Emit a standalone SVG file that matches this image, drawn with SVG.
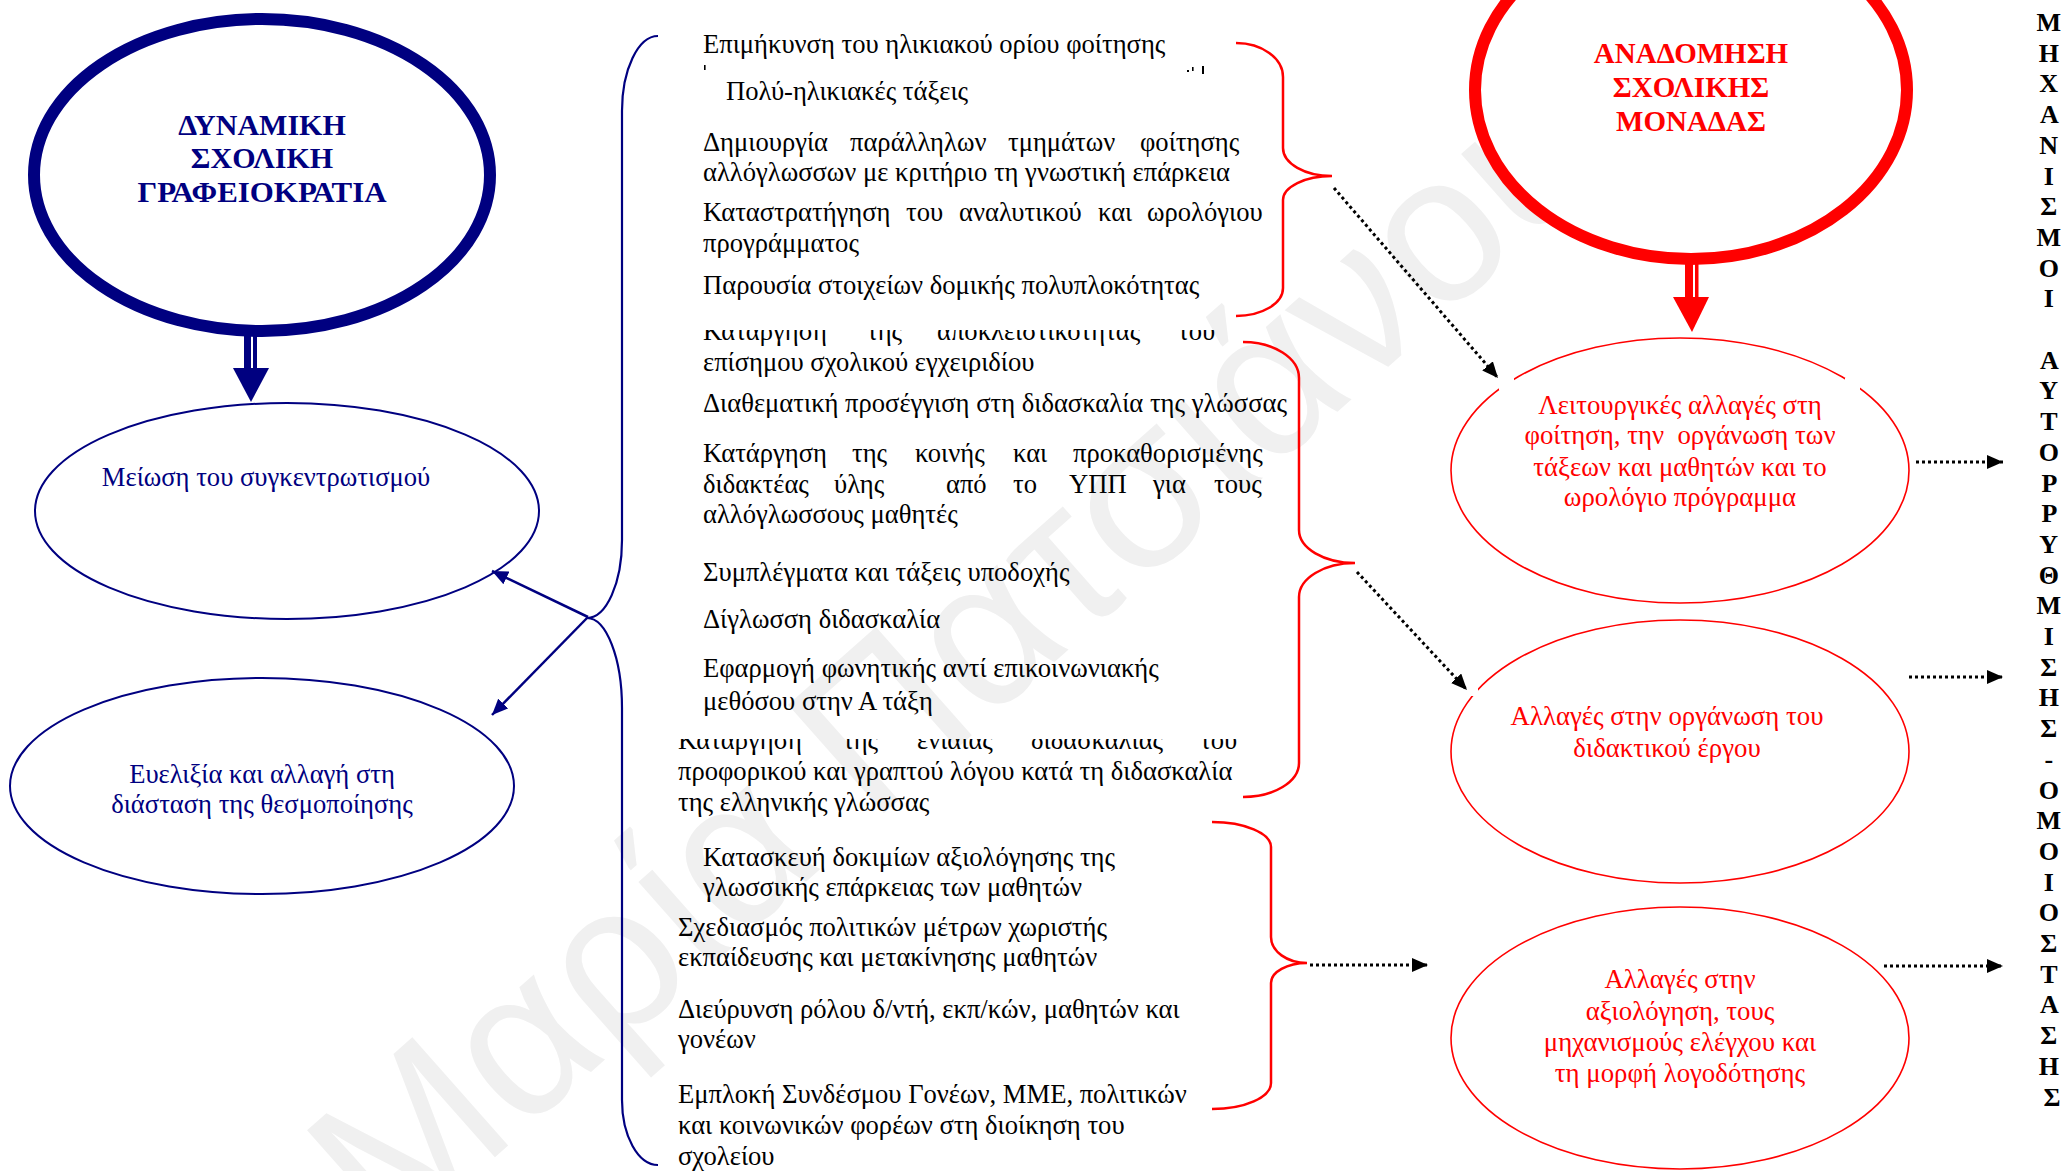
<svg xmlns="http://www.w3.org/2000/svg" width="2064" height="1171" viewBox="0 0 2064 1171">
<style>
  .body { font-family: "Liberation Serif", "Times New Roman", serif; font-size: 26.6px; fill: #000; }
  .navytxt { font-family: "Liberation Serif", "Times New Roman", serif; font-size: 26.6px; fill: #000080; text-anchor: middle; }
  .redtxt { font-family: "Liberation Serif", "Times New Roman", serif; font-size: 26.8px; fill: #ff0000; text-anchor: middle; }
  .title { font-family: "Liberation Serif", "Times New Roman", serif; font-weight: bold; text-anchor: middle; }
  .vert { font-family: "Liberation Serif", "Times New Roman", serif; font-size: 26px; font-weight: bold; fill: #000; text-anchor: middle; }
  .thin-navy { fill: none; stroke: #000080; stroke-width: 2; }
  .thin-red { fill: none; stroke: #ff0000; stroke-width: 1.6; }
  .brace-red { fill: none; stroke: #ff0000; stroke-width: 2.5; }
  .brace-navy { fill: none; stroke: #000080; stroke-width: 2.2; }
  .dotted { fill: none; stroke: #000; stroke-width: 3; stroke-dasharray: 3 3; }
  .navy-link { fill: none; stroke: #000080; stroke-width: 2.5; }
  .watermark { font-family: "Liberation Sans", Arial, sans-serif; font-size: 210px; fill: #f0f0f0; }
</style>
<defs>
  <marker id="head-navy" viewBox="0 0 16 14" refX="16" refY="7" markerWidth="16" markerHeight="14" markerUnits="userSpaceOnUse" orient="auto">
    <path d="M0 0 L16 7 L0 14 z" fill="#000080"/>
  </marker>
  <marker id="head-black" viewBox="0 0 16 14" refX="16" refY="7" markerWidth="16" markerHeight="14" markerUnits="userSpaceOnUse" orient="auto">
    <path d="M0 0 L16 7 L0 14 z" fill="#000"/>
  </marker>
  <clipPath id="clip-row8"><rect x="690" y="330" width="560" height="30"/></clipPath>
  <clipPath id="clip-row18"><rect x="660" y="739" width="600" height="30"/></clipPath>
</defs>

<rect x="0" y="0" width="2064" height="1171" fill="#fff"/>

<!-- faint background watermark -->
<text class="watermark" transform="translate(390,1250) rotate(-41.5)">Μαρία Πατσιάνου</text>

<!-- left column: bureaucracy side -->
<g id="node-dynamiki">
  <ellipse cx="262" cy="175" rx="228" ry="156" fill="#fff" stroke="#000080" stroke-width="12"/>
  <text class="title" font-size="30" fill="#000080" x="262" y="135">ΔΥΝΑΜΙΚΗ</text>
  <text class="title" font-size="30" fill="#000080" x="262" y="168">ΣΧΟΛΙΚΗ</text>
  <text class="title" font-size="30" fill="#000080" x="262" y="202" textLength="249" lengthAdjust="spacingAndGlyphs">ΓΡΑΦΕΙΟΚΡΑΤΙΑ</text>
</g>

<g id="node-meiosi">
  <ellipse cx="287" cy="511" rx="252" ry="108" fill="#fff" class="thin-navy"/>
  <text class="navytxt" x="266" y="486">Μείωση του συγκεντρωτισμού</text>
</g>

<g id="node-evelixia">
  <ellipse cx="262" cy="786" rx="252" ry="108" fill="#fff" class="thin-navy"/>
  <text class="navytxt" x="262" y="783">Ευελιξία και αλλαγή στη</text>
  <text class="navytxt" x="262" y="813">διάσταση της θεσμοποίησης</text>
</g>

<!-- right column: restructuring side -->
<g id="node-anadomisi">
  <ellipse cx="1691" cy="90" rx="216" ry="169" fill="#fff" stroke="#ff0000" stroke-width="12"/>
  <text class="title" font-size="29" fill="#ff0000" x="1691" y="63">ΑΝΑΔΟΜΗΣΗ</text>
  <text class="title" font-size="29" fill="#ff0000" x="1691" y="97">ΣΧΟΛΙΚΗΣ</text>
  <text class="title" font-size="29" fill="#ff0000" x="1691" y="131">ΜΟΝΑΔΑΣ</text>
</g>

<g id="node-leitourgikes">
  <ellipse cx="1680" cy="470.5" rx="229" ry="132.5" fill="#fff" class="thin-red"/>
  <rect x="1499" y="378" width="15" height="12" fill="#fff"/>
  <rect x="1845" y="378" width="15" height="12" fill="#fff"/>
  <text class="redtxt" x="1680" y="414">Λειτουργικές αλλαγές στη</text>
  <text class="redtxt" x="1680" y="444" xml:space="preserve">φοίτηση, την  οργάνωση των</text>
  <text class="redtxt" x="1680" y="476">τάξεων και μαθητών και το</text>
  <text class="redtxt" x="1680" y="506">ωρολόγιο πρόγραμμα</text>
</g>

<g id="node-didaktiko">
  <ellipse cx="1680" cy="751.5" rx="229" ry="131.5" fill="#fff" class="thin-red"/>
  <rect x="1467" y="684" width="11" height="12" fill="#fff"/>
  <text class="redtxt" x="1667" y="725">Αλλαγές στην οργάνωση του</text>
  <text class="redtxt" x="1667" y="757">διδακτικού έργου</text>
</g>

<g id="node-axiologisi">
  <ellipse cx="1680" cy="1038" rx="229" ry="131" fill="#fff" class="thin-red"/>
  <text class="redtxt" x="1680" y="988">Αλλαγές στην</text>
  <text class="redtxt" x="1680" y="1020">αξιολόγηση, τους</text>
  <text class="redtxt" x="1680" y="1051">μηχανισμούς ελέγχου και</text>
  <text class="redtxt" x="1680" y="1082">τη μορφή λογοδότησης</text>
</g>

<!-- middle column: the three groups of measures -->
<g id="node-measures-attendance">
  <text class="body" x="703" y="53">Επιμήκυνση του ηλικιακού ορίου φοίτησης</text>
  <g fill="#000">
    <rect x="704" y="65" width="1.6" height="5"/>
    <rect x="1187" y="70" width="2" height="2"/>
    <rect x="1192" y="67" width="1.6" height="4"/>
    <rect x="1202" y="66" width="2" height="8"/>
  </g>
  <text class="body" x="726" y="100">Πολύ-ηλικιακές τάξεις</text>
  <text class="body" y="151"><tspan x="703">Δημιουργία</tspan><tspan x="850">παράλληλων</tspan><tspan x="1008">τμημάτων</tspan><tspan x="1140">φοίτησης</tspan></text>
  <text class="body" x="703" y="181">αλλόγλωσσων με κριτήριο τη γνωστική επάρκεια</text>
  <text class="body" y="221"><tspan x="703">Καταστρατήγηση</tspan><tspan x="906">του</tspan><tspan x="959">αναλυτικού</tspan><tspan x="1098">και</tspan><tspan x="1147">ωρολόγιου</tspan></text>
  <text class="body" x="703" y="252">προγράμματος</text>
  <text class="body" x="703" y="294">Παρουσία στοιχείων δομικής πολυπλοκότητας</text>
</g>

<g id="node-measures-teaching">
  <text class="body" y="340" clip-path="url(#clip-row8)"><tspan x="703">Κατάργηση</tspan><tspan x="867">της</tspan><tspan x="937">αποκλειστικότητας</tspan><tspan x="1178">του</tspan></text>
  <text class="body" x="703" y="371">επίσημου σχολικού εγχειριδίου</text>
  <text class="body" x="703" y="412">Διαθεματική προσέγγιση στη διδασκαλία της γλώσσας</text>
  <text class="body" y="462"><tspan x="703">Κατάργηση</tspan><tspan x="852">της</tspan><tspan x="915">κοινής</tspan><tspan x="1013">και</tspan><tspan x="1073">προκαθορισμένης</tspan></text>
  <text class="body" y="493"><tspan x="703">διδακτέας</tspan><tspan x="834">ύλης</tspan><tspan x="946">από</tspan><tspan x="1013">το</tspan><tspan x="1069">ΥΠΠ</tspan><tspan x="1153">για</tspan><tspan x="1214">τους</tspan></text>
  <text class="body" x="703" y="523">αλλόγλωσσους μαθητές</text>
  <text class="body" x="703" y="581">Συμπλέγματα και τάξεις υποδοχής</text>
  <text class="body" x="703" y="628">Δίγλωσση διδασκαλία</text>
  <text class="body" x="703" y="677">Εφαρμογή φωνητικής αντί επικοινωνιακής</text>
  <text class="body" x="703" y="710">μεθόσου στην Α τάξη</text>
  <text class="body" y="749" clip-path="url(#clip-row18)"><tspan x="678">Κατάργηση</tspan><tspan x="843">της</tspan><tspan x="917">ενιαίας</tspan><tspan x="1031">διδασκαλίας</tspan><tspan x="1200">του</tspan></text>
  <text class="body" x="678" y="780">προφορικού και γραπτού λόγου κατά τη διδασκαλία</text>
  <text class="body" x="678" y="811">της ελληνικής γλώσσας</text>
</g>

<g id="node-measures-evaluation">
  <text class="body" x="703" y="866">Κατασκευή δοκιμίων αξιολόγησης της</text>
  <text class="body" x="703" y="896">γλωσσικής επάρκειας των μαθητών</text>
  <text class="body" x="678" y="936">Σχεδιασμός πολιτικών μέτρων χωριστής</text>
  <text class="body" x="678" y="966">εκπαίδευσης και μετακίνησης μαθητών</text>
  <text class="body" x="678" y="1018">Διεύρυνση ρόλου δ/ντή, εκπ/κών, μαθητών και</text>
  <text class="body" x="678" y="1048">γονέων</text>
  <text class="body" x="678" y="1103">Εμπλοκή Συνδέσμου Γονέων, ΜΜΕ, πολιτικών</text>
  <text class="body" x="678" y="1134">και κοινωνικών φορέων στη διοίκηση του</text>
  <text class="body" x="678" y="1165">σχολείου</text>
</g>

<!-- far right: vertical caption -->
<g id="node-mechanisms">
  <text class="vert">
    <tspan x="2052" y="31">Μ</tspan>
    <tspan x="2052" y="61.7">Η</tspan>
    <tspan x="2052" y="92.4">Χ</tspan>
    <tspan x="2052" y="123.1">Α</tspan>
    <tspan x="2052" y="153.8">Ν</tspan>
    <tspan x="2052" y="184.5">Ι</tspan>
    <tspan x="2052" y="215.2">Σ</tspan>
    <tspan x="2052" y="245.9">Μ</tspan>
    <tspan x="2052" y="276.6">Ο</tspan>
    <tspan x="2052" y="307.3">Ι</tspan>
    <tspan x="2052" y="368.7">Α</tspan>
    <tspan x="2052" y="399.4">Υ</tspan>
    <tspan x="2052" y="430.1">Τ</tspan>
    <tspan x="2052" y="460.8">Ο</tspan>
    <tspan x="2052" y="491.5">Ρ</tspan>
    <tspan x="2052" y="522.2">Ρ</tspan>
    <tspan x="2052" y="552.9">Υ</tspan>
    <tspan x="2052" y="583.6">Θ</tspan>
    <tspan x="2052" y="614.3">Μ</tspan>
    <tspan x="2052" y="645">Ι</tspan>
    <tspan x="2052" y="675.7">Σ</tspan>
    <tspan x="2052" y="706.4">Η</tspan>
    <tspan x="2052" y="737.1">Σ</tspan>
    <tspan x="2052" y="767.8">-</tspan>
    <tspan x="2052" y="798.5">Ο</tspan>
    <tspan x="2052" y="829.2">Μ</tspan>
    <tspan x="2052" y="859.9">Ο</tspan>
    <tspan x="2052" y="890.6">Ι</tspan>
    <tspan x="2052" y="921.3">Ο</tspan>
    <tspan x="2052" y="952">Σ</tspan>
    <tspan x="2052" y="982.7">Τ</tspan>
    <tspan x="2052" y="1013.4">Α</tspan>
    <tspan x="2052" y="1044.1">Σ</tspan>
    <tspan x="2052" y="1074.8">Η</tspan>
    <tspan x="2052" y="1105.5">Σ</tspan>
  </text>
</g>

<!-- connectors: braces, block arrows, links -->
<g id="connectors">
  <!-- block arrow: bureaucracy to centralisation -->
  <rect x="244" y="336" width="7" height="34" fill="#000080"/>
  <rect x="253" y="336" width="4" height="34" fill="#000080"/>
  <path d="M233 368 L269 368 L251 402 z" fill="#000080"/>

  <!-- block arrow: restructuring to operational changes -->
  <rect x="1685" y="264" width="8" height="34" fill="#ff0000"/>
  <rect x="1695" y="264" width="3.5" height="34" fill="#ff0000"/>
  <path d="M1673 297 L1709 297 L1692 332 z" fill="#ff0000"/>

  <!-- navy brace gathering all the measures -->
  <path class="brace-navy" d="M658 36 A36 75 0 0 0 622 111 L622 540 A35 78 0 0 1 587 618 A35 90 0 0 1 622 708 L622 1100 A36 65 0 0 0 658 1165"/>
  <line class="navy-link" x1="588" y1="617" x2="492" y2="571" marker-end="url(#head-navy)"/>
  <line class="navy-link" x1="588" y1="617" x2="492" y2="715" marker-end="url(#head-navy)"/>

  <!-- red braces for the three groups -->
  <path class="brace-red" d="M1236 43 A47 34 0 0 1 1283 77 L1283 148 A49 28 0 0 0 1332 176 A49 24 0 0 0 1283 200 L1283 288 A47 28 0 0 1 1236 316"/>
  <path class="brace-red" d="M1243 342 A56 36 0 0 1 1299 378 L1299 530 A56 33 0 0 0 1355 563 A56 34 0 0 0 1299 597 L1299 763 A56 34 0 0 1 1243 797"/>
  <path class="brace-red" d="M1212 822 A59 25 0 0 1 1271 847 L1271 937 A36 26 0 0 0 1307 963 A36 20 0 0 0 1271 983 L1271 1083 A59 26 0 0 1 1212 1109"/>

  <!-- dotted links from the groups to the changes -->
  <line class="dotted" x1="1334" y1="188" x2="1498" y2="378" marker-end="url(#head-black)"/>
  <line class="dotted" x1="1357" y1="572" x2="1467" y2="690" marker-end="url(#head-black)"/>
  <line class="dotted" x1="1310" y1="965" x2="1428" y2="965" marker-end="url(#head-black)"/>

  <!-- dotted links from the changes to the caption -->
  <line class="dotted" x1="1916" y1="462" x2="2003" y2="462" marker-end="url(#head-black)"/>
  <line class="dotted" x1="1909" y1="677" x2="2003" y2="677" marker-end="url(#head-black)"/>
  <line class="dotted" x1="1884" y1="966" x2="2003" y2="966" marker-end="url(#head-black)"/>
</g>
</svg>
